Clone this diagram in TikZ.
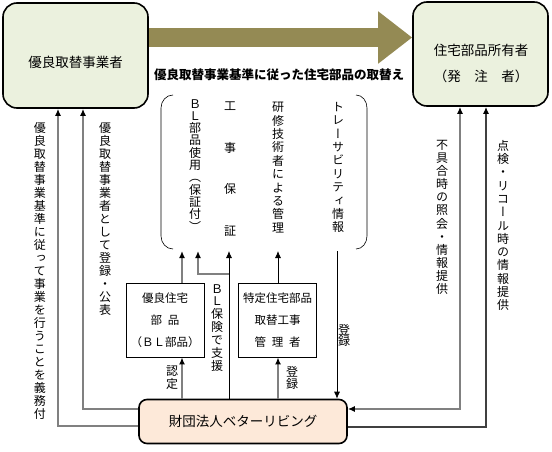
\documentclass[tikz,border=0pt]{standalone}
\usepackage{fontspec}
\setmainfont{Noto Sans CJK JP}
\newfontfamily\tatefont[Script=CJK,RawFeature=+vert]{Noto Sans CJK JP}
\usetikzlibrary{arrows.meta}

\definecolor{boxgreen}{HTML}{EBF1DE}
\definecolor{boxpeach}{HTML}{FDE9D9}
\definecolor{arrowolive}{HTML}{948A54}
\definecolor{linegray}{HTML}{808080}

% vertical text: one character per line
\ExplSyntaxOn
\NewDocumentCommand \tate { O{13.3pt} m }
  {
    \vbox
      {
        \baselineskip=#1 \lineskiplimit=-\maxdimen \tatefont
        \tl_map_inline:nn {#2} { \hbox_to_wd:nn {1em} { \hss ##1 \hss } }
      }
  }
\ExplSyntaxOff

\begin{document}
\begin{tikzpicture}[x=1pt, y=-1pt,
        bigbox/.style={draw, line width=1.6pt, rounded corners=14pt, fill=boxgreen},
        smallbox/.style={draw, line width=0.8pt, fill=white, align=center,
            minimum width=78pt, minimum height=74pt, font=\fontsize{11.5}{22}\selectfont},
        tatetxt/.style={inner sep=0pt, anchor=north, font=\fontsize{12}{14}\selectfont},
        txt/.style={inner sep=0pt, font=\fontsize{13.5}{16}\selectfont},
        garr/.style={draw=linegray, line width=1.5pt, -{Latex[length=7pt,width=6pt,color=black]}},
        gboth/.style={draw=linegray, line width=1.5pt,
            {Latex[length=7pt,width=6pt,color=black]}-{Latex[length=7pt,width=6pt,color=black]}},
        barr/.style={draw=black, line width=0.8pt, -{Latex[length=7pt,width=6pt]}}]
    \useasboundingbox (0,0) rectangle (552,452);

    % main boxes
    \node[bigbox, minimum width=145pt, minimum height=105pt] (jigyo) at (75.5,55.5) {};
    \node[txt] (jigyotxt) at (75.5,62) {優良取替事業者};
    \node[bigbox, minimum width=135pt, minimum height=104pt] (shoyu) at (480.5,54) {};
    \node[txt, align=center] (shoyutxt) at (481,63) {住宅部品所有者\\[10pt]（発　注　者）};
    \node[draw, line width=1.6pt, rounded corners=8pt, fill=boxpeach,
          minimum width=208pt, minimum height=44pt, font=\fontsize{13.5}{16}\selectfont]
          (zaidan) at (243,421.5) {財団法人ベターリビング};

    \draw[arrowolive, line width=19pt, -{Triangle[length=34pt,width=50pt]}]
        (jigyo.east |- 0,37.5) -- (shoyu.west |- 0,37.5);
    \node[inner sep=0pt, font=\bfseries\fontsize{12.5}{14}\selectfont] (kijun) at (279,75)
        {優良取替事業基準に従った住宅部品の取替え};

    % brackets
    \draw[line width=0.6pt] (173,95) to[out=180,in=90] (161,108) -- (161,236) to[out=-90,in=180] (173,249);
    \draw[line width=0.6pt] (356,95) to[out=0,in=90] (367,108) -- (367,236) to[out=-90,in=0] (356,249);

    \node[tatetxt] (blshiyo) at (195,99) {\tate[12.3pt]{ＢＬ部品使用（保証付）}};
    \node[tatetxt] (kojihosho) at (230,102) {\tate[41.5pt]{工事保証}};
    \node[tatetxt] (kenshu) at (278,102) {\tate[13.4pt]{研修技術者による管理}};
    \node[tatetxt] (trace) at (338,102) {\tate[13.4pt]{トレーサビリティ情報}};

    % small boxes
    \node[smallbox] (blbuhin) at (165,320) {優良住宅\\部\enspace 品\\（ＢＬ部品）};
    \node[smallbox] (kanri) at (277.5,320) {特定住宅部品\\取替工事\\管\enspace 理\enspace 者};

    % side labels
    \node[tatetxt] (gimu) at (40,122) {\tate[13pt]{優良取替事業基準に従って事業を行うことを義務付}};
    \node[tatetxt] (kohyo) at (105,122) {\tate[13pt]{優良取替事業者として登録・公表}};
    \node[tatetxt] (fuguai) at (442,140) {\tate[13.1pt]{不具合時の照会・情報提供}};
    \node[tatetxt] (tenken) at (503,140) {\tate[13.3pt]{点検・リコール時の情報提供}};
    \node[tatetxt] (hoken) at (217,284) {\tate[12.9pt]{ＢＬ保険で支援}};
    \node[tatetxt] (nintei) at (172,366) {\tate[12.5pt]{認定}};
    \node[tatetxt] (toroku) at (292,366) {\tate[12.5pt]{登録}};
    \node[tatetxt] (torokub) at (344,324) {\tate[11.5pt]{登録}};

    % connectors
    \coordinate (kakko) at (0,251);
    \coordinate (bunki) at (229,274);
    \draw[garr] (zaidan.west |- 0,426) -| (jigyo.south -| 58,0);
    \draw[garr] (zaidan.west |- 0,409) -| (jigyo.south -| 83,0);
    \draw[gboth] (zaidan.east |- 0,409) -| (shoyu.south -| 460,0);
    \draw[garr, draw=darkgray] (zaidan.east |- 0,427) -| (shoyu.south -| 486,0);
    \draw[garr] (zaidan.north -| 182,0) -- (blbuhin.south -| 182,0);
    \draw[garr] (blbuhin.north -| 182,0) -- (kakko -| 182,0);
    \draw[barr] (zaidan.north -| bunki) -- (kakko -| bunki);
    \draw[garr] (bunki) -| (kakko -| 198,0);
    \draw[garr] (zaidan.north -| 278,0) -- (kanri.south -| 278,0);
    \draw[barr] (kanri.north -| 278,0) -- (kakko -| 278,0);
    \draw[barr] (kakko -| 337,0) -- (zaidan.north -| 337,0);
\end{tikzpicture}
\end{document}
